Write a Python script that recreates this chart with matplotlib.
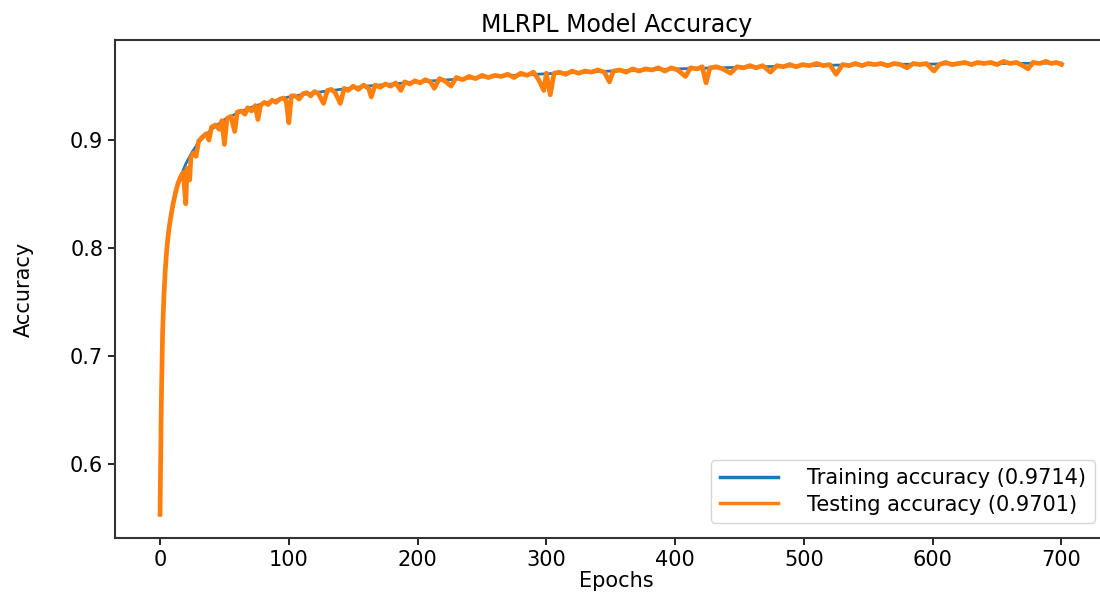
# MLRPL 模型准确率曲线
import matplotlib
matplotlib.use('Agg')
import matplotlib.pyplot as plt

# 训练集准确率（平滑曲线）
train_epochs = [0, 1, 2, 3, 4, 5, 6, 8, 10, 12, 15, 20, 25, 30, 40, 50, 60, 70, 80, 90,
                100, 120, 140, 160, 180, 200, 225, 250, 275, 300, 350, 400, 450, 500,
                550, 600, 650, 700]
train_acc = [0.553, 0.66, 0.725, 0.757, 0.78, 0.797, 0.81, 0.828, 0.841, 0.851, 0.863,
             0.878, 0.889, 0.898, 0.910, 0.919, 0.925, 0.930, 0.934, 0.937,
             0.940, 0.944, 0.947, 0.950, 0.952, 0.954, 0.956, 0.9585, 0.960, 0.9615,
             0.964, 0.966, 0.9675, 0.969, 0.970, 0.9705, 0.971, 0.9714]

# 测试集准确率（有抖动）
test_epochs = [0, 1, 2, 3, 4, 5, 6, 7, 8, 10, 12, 14, 16, 18, 20, 21, 23, 24, 26, 28,
               30, 33, 36, 38, 40, 43, 46, 48, 50, 52, 55, 58, 60, 63, 66, 68, 71, 74, 76, 78,
               81, 84, 87, 90, 93, 96, 98, 100, 102, 105, 108, 111, 114, 117, 120, 123, 127, 130,
               133, 136, 140, 143, 146, 150, 154, 158, 162, 164, 167, 171, 175, 179, 183, 187,
               190, 194, 198, 202, 206, 210, 213, 217, 221, 226, 230, 235, 240, 245, 250, 255,
               260, 265, 270, 275, 280, 285, 290, 294, 298, 300, 303, 306, 310, 315, 320, 325,
               330, 335, 340, 345, 349, 352, 357, 362, 367, 372, 377, 382, 387, 392, 397, 402,
               408, 412, 417, 421, 424, 427, 432, 437, 443, 448, 453, 458, 463, 468, 474, 479,
               484, 489, 494, 499, 504, 510, 515, 520, 525, 530, 535, 540, 545, 550, 555, 560,
               565, 570, 575, 580, 585, 590, 595, 601, 605, 610, 615, 620, 625, 630, 635, 640,
               645, 650, 655, 660, 665, 670, 674, 678, 683, 688, 692, 696, 700]
test_acc = [0.553, 0.655, 0.722, 0.755, 0.778, 0.795, 0.808, 0.818, 0.826, 0.840, 0.851,
            0.860, 0.866, 0.870, 0.841, 0.874, 0.863, 0.884, 0.888, 0.885,
            0.899, 0.903, 0.906, 0.900, 0.912, 0.914, 0.910, 0.918, 0.896, 0.920, 0.922, 0.908,
            0.926, 0.927, 0.924, 0.930, 0.927, 0.932, 0.919, 0.932,
            0.935, 0.933, 0.937, 0.935, 0.938, 0.939, 0.936, 0.916, 0.941, 0.941, 0.938, 0.943,
            0.944, 0.941, 0.945, 0.943, 0.934, 0.946,
            0.947, 0.944, 0.934, 0.948, 0.946, 0.950, 0.947, 0.951, 0.948, 0.940, 0.951, 0.949,
            0.952, 0.950, 0.953, 0.946,
            0.954, 0.952, 0.955, 0.953, 0.956, 0.954, 0.948, 0.957, 0.955, 0.950, 0.958, 0.956,
            0.959, 0.957, 0.960, 0.958,
            0.960, 0.959, 0.961, 0.958, 0.962, 0.960, 0.963, 0.956, 0.946, 0.962, 0.942, 0.962,
            0.963, 0.961, 0.964, 0.962,
            0.964, 0.963, 0.965, 0.963, 0.954, 0.964, 0.965, 0.963, 0.966, 0.964, 0.966, 0.965,
            0.967, 0.964, 0.967, 0.965,
            0.959, 0.967, 0.966, 0.968, 0.953, 0.967, 0.968, 0.966, 0.962, 0.968, 0.967, 0.969,
            0.967, 0.969, 0.963, 0.969,
            0.968, 0.970, 0.968, 0.970, 0.969, 0.971, 0.969, 0.970, 0.961, 0.970, 0.969, 0.971,
            0.969, 0.971, 0.970, 0.971,
            0.969, 0.971, 0.970, 0.967, 0.971, 0.970, 0.971, 0.964, 0.970, 0.972, 0.970, 0.971,
            0.972, 0.970, 0.972, 0.971,
            0.972, 0.970, 0.973, 0.971, 0.972, 0.969, 0.966, 0.972, 0.971, 0.973, 0.971, 0.972,
            0.9701]

train_label = 'Training accuracy (0.9714)'
test_label = 'Testing accuracy (0.9701)'

fig = plt.figure(figsize=(11, 5.98), dpi=100)
ax = fig.add_axes([0.1045, 0.1003, 0.912, 0.833])

ax.plot(train_epochs, train_acc, color='#1f77b4', lw=2.0, label=train_label)
ax.plot(test_epochs, test_acc, color='#ff7f0e', lw=3.4, label=test_label)

ax.set_xlim(-35, 744)
ax.set_ylim(0.5311, 0.9929)
ax.set_xticks([0, 100, 200, 300, 400, 500, 600, 700])
ax.set_yticks([0.6, 0.7, 0.8, 0.9])
ax.tick_params(labelsize=15, length=5, width=1.2)
for s in ax.spines.values():
    s.set_linewidth(1.5)
    s.set_color('#333333')
ax.spines['right'].set_visible(False)

ax.set_title('MLRPL Model Accuracy', fontsize=17)
ax.set_xlabel('Epochs', fontsize=15, labelpad=1)
ax.set_ylabel('Accuracy', fontsize=15, labelpad=26)

leg = ax.legend(loc='lower right', bbox_to_anchor=(0.989, 0.005), fontsize=15,
                handlelength=2.8, borderaxespad=0.6, labelspacing=0.3, handletextpad=1.4)
for line in leg.get_lines():
    line.set_linewidth(2.5)

plt.savefig('out.png', dpi=100)
